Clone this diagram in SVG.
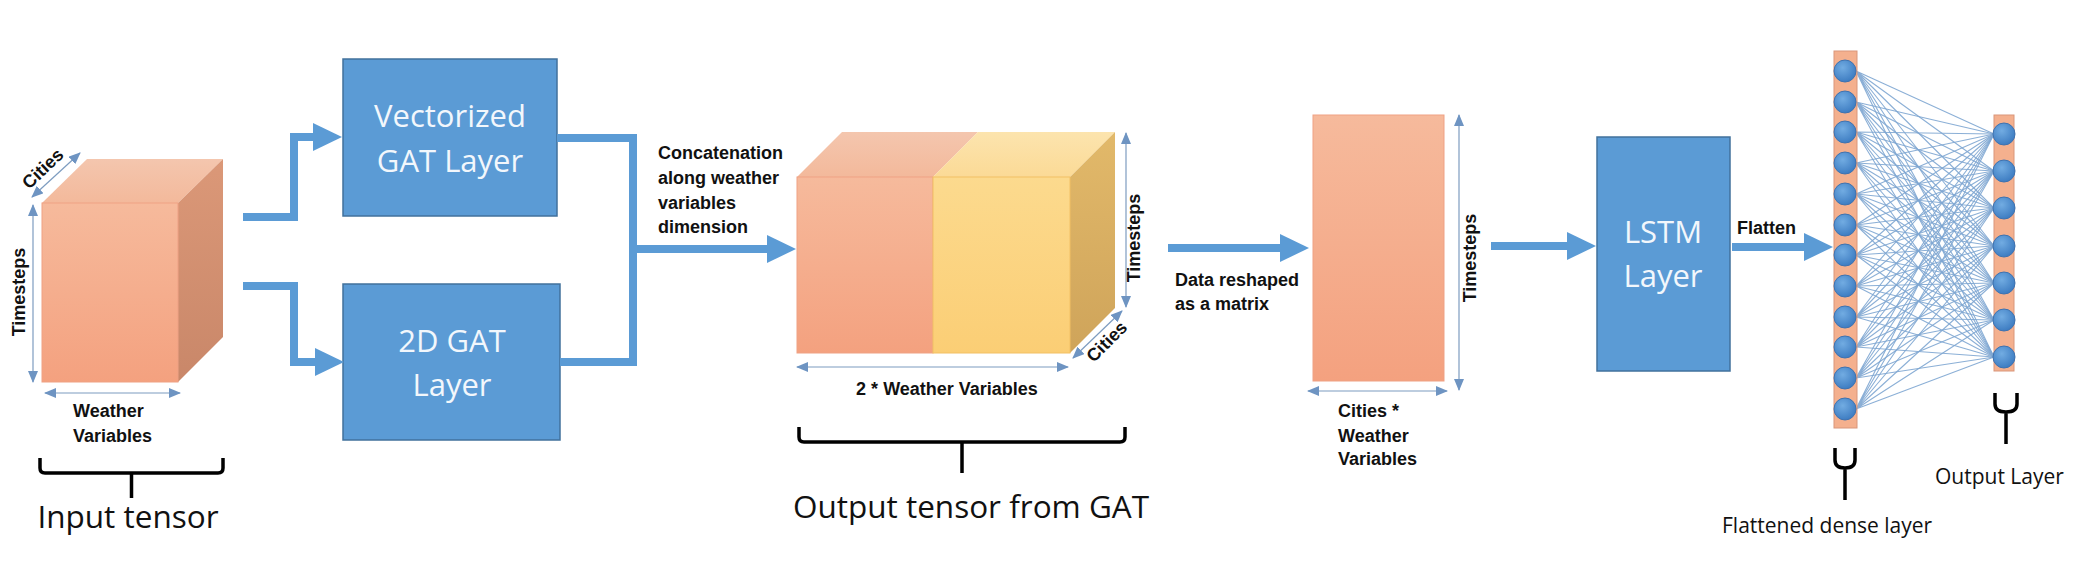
<svg xmlns="http://www.w3.org/2000/svg" width="2073" height="561" viewBox="0 0 2073 561">
<style>
.box{fill:#5B9BD5;stroke:#41719C;stroke-width:1.5}
.boxtxt{font-family:"Open Sans",sans-serif;font-size:31px;fill:#F2F7FC;text-anchor:middle}
.lbl{font-family:"Liberation Sans",Arial,sans-serif;font-weight:bold;font-size:18px;fill:#111}
.big{font-family:"Open Sans",sans-serif;font-size:31.5px;fill:#111}
.med{font-family:"Open Sans",sans-serif;font-size:21px;fill:#111}
.conn{fill:none;stroke:#5B9BD5;stroke-width:8;stroke-linejoin:miter}
.arr{marker-end:url(#bighead)}
.dim{fill:none;stroke:#7D9CC0;stroke-width:1.2;marker-start:url(#dimhead);marker-end:url(#dimhead)}
.brace{fill:none;stroke:#000;stroke-width:3.5;stroke-linecap:butt}
.node{fill:url(#nodeGrad);stroke:#3F72AF;stroke-width:1}
.wire{fill:none;stroke:#7EA6D2;stroke-width:1.1;opacity:0.9}
.col{fill:#F4B08E;stroke:#D9967A;stroke-width:1}
</style>
<defs>
<linearGradient id="orFront" x1="0" y1="0" x2="0" y2="1"><stop offset="0" stop-color="#F6BA9C"/><stop offset="1" stop-color="#F4A17F"/></linearGradient>
<linearGradient id="orTop" x1="0" y1="0" x2="0" y2="1"><stop offset="0" stop-color="#F4C6AE"/><stop offset="1" stop-color="#F3B99B"/></linearGradient>
<linearGradient id="orRight" x1="0" y1="0" x2="0" y2="1"><stop offset="0" stop-color="#DB9878"/><stop offset="1" stop-color="#C98769"/></linearGradient>
<linearGradient id="yeFront" x1="0" y1="0" x2="0" y2="1"><stop offset="0" stop-color="#FCDA8E"/><stop offset="1" stop-color="#FBCE75"/></linearGradient>
<linearGradient id="yeTop" x1="0" y1="0" x2="0" y2="1"><stop offset="0" stop-color="#FCE4AE"/><stop offset="1" stop-color="#FBDA96"/></linearGradient>
<linearGradient id="yeRight" x1="0" y1="0" x2="0" y2="1"><stop offset="0" stop-color="#E2B96A"/><stop offset="1" stop-color="#CFA45A"/></linearGradient>
<radialGradient id="nodeGrad" cx="0.4" cy="0.35" r="0.65"><stop offset="0" stop-color="#72ACE2"/><stop offset="1" stop-color="#3E7DC2"/></radialGradient>
<marker id="bighead" markerUnits="userSpaceOnUse" markerWidth="30" markerHeight="28" viewBox="0 0 30 28" refX="1" refY="14" orient="auto"><path d="M0,0 L29,14 L0,28 z" fill="#5B9BD5"/></marker>
<marker id="dimhead" markerUnits="userSpaceOnUse" markerWidth="12" markerHeight="10" viewBox="0 0 12 10" refX="11" refY="5" orient="auto-start-reverse"><path d="M0,0 L12,5 L0,10 z" fill="#6E94C2"/></marker>
</defs>
<rect width="2073" height="561" fill="#FFFFFF"/>

<g id="input-tensor">
<polygon points="42,203 87,159 223,159 178,203" fill="url(#orTop)"/>
<polygon points="178,203 223,159 223,337 178,382" fill="url(#orRight)"/>
<rect x="42" y="203" width="136" height="179" fill="url(#orFront)" stroke="#EFA184" stroke-width="1"/>
<line class="dim" x1="33" y1="205" x2="33" y2="382"/>
<line class="dim" x1="45" y1="393" x2="180" y2="393"/>
<line class="dim" x1="32" y1="197" x2="80" y2="153"/>
<text class="lbl" transform="translate(25,292) rotate(-90)" text-anchor="middle">Timesteps</text>
<text class="lbl" transform="translate(47,173) rotate(-44)" text-anchor="middle">Cities</text>
<text class="lbl" x="73" y="417">Weather</text>
<text class="lbl" x="73" y="442">Variables</text>
<path class="brace" d="M40,458 V468 Q40,473 45,473 H218 Q223,473 223,468 V458 M131.5,473 V498"/>
<text class="big" x="128" y="528" text-anchor="middle">Input tensor</text>
</g>

<g id="gat-vectorized">
<rect class="box" x="343" y="59" width="214" height="157"/>
<text class="boxtxt" x="450" y="127">Vectorized</text>
<text class="boxtxt" x="450" y="172">GAT Layer</text>
</g>

<g id="gat-2d">
<rect class="box" x="343" y="284" width="217" height="156"/>
<text class="boxtxt" x="452" y="352">2D GAT</text>
<text class="boxtxt" x="452" y="396">Layer</text>
</g>

<g id="output-tensor">
<polygon points="797,177 842,132 978,132 933,177" fill="url(#orTop)"/>
<polygon points="933,177 978,132 1115,132 1070,177" fill="url(#yeTop)"/>
<polygon points="1070,177 1115,132 1115,308 1070,353" fill="url(#yeRight)"/>
<rect x="797" y="177" width="136" height="176" fill="url(#orFront)" stroke="#EFA184" stroke-width="1"/>
<rect x="933" y="177" width="137" height="176" fill="url(#yeFront)" stroke="#F2C064" stroke-width="1"/>
<line class="dim" x1="1126" y1="133" x2="1126" y2="307"/>
<line class="dim" x1="797" y1="367" x2="1068" y2="367"/>
<line class="dim" x1="1073" y1="358" x2="1122" y2="311"/>
<text class="lbl" transform="translate(1140,238) rotate(-90)" text-anchor="middle">Timesteps</text>
<text class="lbl" transform="translate(1111,346) rotate(-45)" text-anchor="middle">Cities</text>
<text class="lbl" x="947" y="395" text-anchor="middle">2 * Weather Variables</text>
<path class="brace" d="M799,427 V437 Q799,442 804,442 H1120 Q1125,442 1125,437 V427 M962,442 V473"/>
<text class="big" x="971" y="518" text-anchor="middle">Output tensor from GAT</text>
</g>

<g id="matrix">
<rect x="1313" y="115" width="131" height="266" fill="url(#orFront)" stroke="#EFA184" stroke-width="1"/>
<line class="dim" x1="1459" y1="115" x2="1459" y2="390"/>
<line class="dim" x1="1308" y1="391" x2="1447" y2="391"/>
<text class="lbl" transform="translate(1476,258) rotate(-90)" text-anchor="middle">Timesteps</text>
<text class="lbl" x="1338" y="417">Cities *</text>
<text class="lbl" x="1338" y="442">Weather</text>
<text class="lbl" x="1338" y="465">Variables</text>
</g>

<g id="lstm">
<rect class="box" x="1597" y="137" width="133" height="234"/>
<text class="boxtxt" x="1663" y="243">LSTM</text>
<text class="boxtxt" x="1663" y="287">Layer</text>
</g>

<g id="connectors">
<path class="conn arr" d="M243,217 H294 V137 H314"/>
<path class="conn arr" d="M243,286 H294 V362 H316"/>
<path class="conn" d="M557,138 H633 V362 H560"/>
<path class="conn arr" d="M633,249 H768"/>
<path class="conn arr" d="M1168,248 H1281"/>
<path class="conn arr" d="M1491,246 H1568"/>
<path class="conn arr" d="M1732,247 H1805"/>
<text class="lbl" x="658" y="159">Concatenation</text>
<text class="lbl" x="658" y="184">along weather</text>
<text class="lbl" x="658" y="209">variables</text>
<text class="lbl" x="658" y="233">dimension</text>
<text class="lbl" x="1175" y="286">Data reshaped</text>
<text class="lbl" x="1175" y="310">as a matrix</text>
<text class="lbl" x="1737" y="234">Flatten</text>
<g id="dense-wires">
<path class="wire" d="M1856 71L1994 134M1856 71L1994 171M1856 71L1994 208M1856 71L1994 246M1856 71L1994 283M1856 71L1994 320M1856 71L1994 357"/>
<path class="wire" d="M1856 102L1994 134M1856 102L1994 171M1856 102L1994 208M1856 102L1994 246M1856 102L1994 283M1856 102L1994 320M1856 102L1994 357"/>
<path class="wire" d="M1856 132L1994 134M1856 132L1994 171M1856 132L1994 208M1856 132L1994 246M1856 132L1994 283M1856 132L1994 320M1856 132L1994 357"/>
<path class="wire" d="M1856 163L1994 134M1856 163L1994 171M1856 163L1994 208M1856 163L1994 246M1856 163L1994 283M1856 163L1994 320M1856 163L1994 357"/>
<path class="wire" d="M1856 194L1994 134M1856 194L1994 171M1856 194L1994 208M1856 194L1994 246M1856 194L1994 283M1856 194L1994 320M1856 194L1994 357"/>
<path class="wire" d="M1856 225L1994 134M1856 225L1994 171M1856 225L1994 208M1856 225L1994 246M1856 225L1994 283M1856 225L1994 320M1856 225L1994 357"/>
<path class="wire" d="M1856 255L1994 134M1856 255L1994 171M1856 255L1994 208M1856 255L1994 246M1856 255L1994 283M1856 255L1994 320M1856 255L1994 357"/>
<path class="wire" d="M1856 286L1994 134M1856 286L1994 171M1856 286L1994 208M1856 286L1994 246M1856 286L1994 283M1856 286L1994 320M1856 286L1994 357"/>
<path class="wire" d="M1856 317L1994 134M1856 317L1994 171M1856 317L1994 208M1856 317L1994 246M1856 317L1994 283M1856 317L1994 320M1856 317L1994 357"/>
<path class="wire" d="M1856 347L1994 134M1856 347L1994 171M1856 347L1994 208M1856 347L1994 246M1856 347L1994 283M1856 347L1994 320M1856 347L1994 357"/>
<path class="wire" d="M1856 378L1994 134M1856 378L1994 171M1856 378L1994 208M1856 378L1994 246M1856 378L1994 283M1856 378L1994 320M1856 378L1994 357"/>
<path class="wire" d="M1856 409L1994 134M1856 409L1994 171M1856 409L1994 208M1856 409L1994 246M1856 409L1994 283M1856 409L1994 320M1856 409L1994 357"/>
</g>
</g>

<g id="dense-layer">
<rect class="col" x="1834" y="51" width="23" height="377"/>
<circle class="node" cx="1845" cy="71" r="11"/>
<circle class="node" cx="1845" cy="102" r="11"/>
<circle class="node" cx="1845" cy="132" r="11"/>
<circle class="node" cx="1845" cy="163" r="11"/>
<circle class="node" cx="1845" cy="194" r="11"/>
<circle class="node" cx="1845" cy="225" r="11"/>
<circle class="node" cx="1845" cy="255" r="11"/>
<circle class="node" cx="1845" cy="286" r="11"/>
<circle class="node" cx="1845" cy="317" r="11"/>
<circle class="node" cx="1845" cy="347" r="11"/>
<circle class="node" cx="1845" cy="378" r="11"/>
<circle class="node" cx="1845" cy="409" r="11"/>
<path class="brace" d="M1835,448 V460 Q1835,468 1845,468 Q1855,468 1855,460 V448 M1845,468 V500"/>
<text class="med" x="1722" y="533">Flattened dense layer</text>
</g>

<g id="output-layer">
<rect class="col" x="1994" y="115" width="20" height="256"/>
<circle class="node" cx="2004" cy="134" r="11"/>
<circle class="node" cx="2004" cy="171" r="11"/>
<circle class="node" cx="2004" cy="208" r="11"/>
<circle class="node" cx="2004" cy="246" r="11"/>
<circle class="node" cx="2004" cy="283" r="11"/>
<circle class="node" cx="2004" cy="320" r="11"/>
<circle class="node" cx="2004" cy="357" r="11"/>
<path class="brace" d="M1995,393 V404 Q1995,412 2006,412 Q2017,412 2017,404 V393 M2006,412 V444"/>
<text class="med" x="1935" y="484">Output Layer</text>
</g>
</svg>
